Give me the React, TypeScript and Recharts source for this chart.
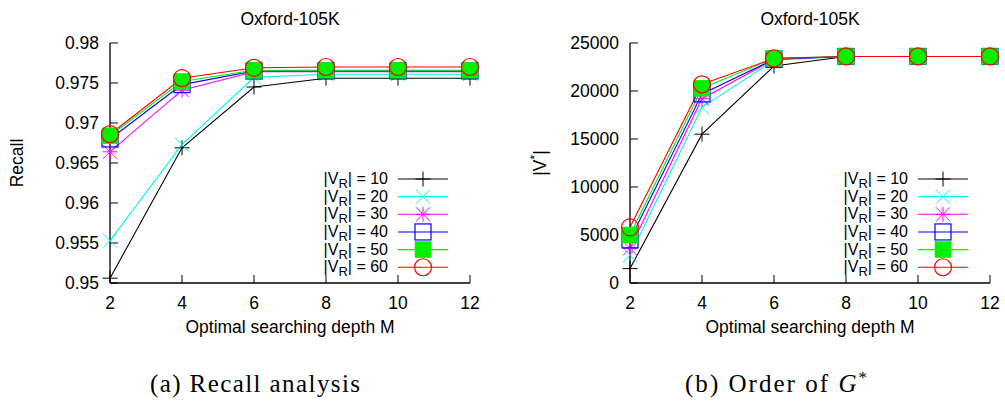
import React from 'react';
import { LineChart, Line, XAxis, YAxis } from 'recharts';

// ---------- data ----------
const depthM = [2, 4, 6, 8, 10, 12];
const vrSizes = [10, 20, 30, 40, 50, 60];

const recallVR10 = [0.9506, 0.9669, 0.9745, 0.9756, 0.9756, 0.9756];
const recallVR20 = [0.9553, 0.9673, 0.9757, 0.9761, 0.9761, 0.9761];
const recallVR30 = [0.9664, 0.9741, 0.9764, 0.9764, 0.9764, 0.9764];
const recallVR40 = [0.968, 0.9748, 0.9765, 0.9765, 0.9765, 0.9765];
const recallVR50 = [0.9684, 0.9752, 0.9766, 0.9766, 0.9766, 0.9766];
const recallVR60 = [0.9686, 0.9756, 0.9769, 0.977, 0.977, 0.977];

const orderVR10 = [1500, 15500, 22600, 23600, 23600, 23600];
const orderVR20 = [2900, 18300, 23200, 23600, 23600, 23600];
const orderVR30 = [3600, 19200, 23300, 23600, 23600, 23600];
const orderVR40 = [4500, 19700, 23300, 23600, 23600, 23600];
const orderVR50 = [5000, 20300, 23400, 23600, 23600, 23600];
const orderVR60 = [5800, 20700, 23400, 23600, 23600, 23600];

const xTicks = [2, 4, 6, 8, 10, 12];
const recallTicks = [0.95, 0.955, 0.96, 0.965, 0.97, 0.975, 0.98];
const orderTicks = [0, 5000, 10000, 15000, 20000, 25000];

const panelTitle = 'Oxford-105K';
const xAxisTitle = 'Optimal searching depth M';

// ---------- styles ----------
const seriesColors = ['#000000', '#00f4f4', '#ff00ff', '#0000ff', '#00f000', '#ff0000'];
const seriesMarkers = ['plus', 'cross', 'star', 'square', 'filledSquare', 'circle'];
const SANS = '"Liberation Sans", Arial, Helvetica, sans-serif';
const SERIF = '"Liberation Serif", "Times New Roman", serif';
const FS = 17.5;
const LEG_FS = 16;

function buildRows(series: number[][]) {
  return depthM.map((m, i) => {
    const row: any = { m };
    series.forEach((s, j) => {
      row[`v${j}`] = s[i];
    });
    return row;
  });
}

const recallRows = buildRows([recallVR10, recallVR20, recallVR30, recallVR40, recallVR50, recallVR60]);
const orderRows = buildRows([orderVR10, orderVR20, orderVR30, orderVR40, orderVR50, orderVR60]);

function Marker({ kind, cx, cy, color }: { kind: string; cx: number; cy: number; color: string }) {
  const h = 7.5;
  const d = 7;
  const s = 8;
  if (kind === 'plus') {
    return (
      <g stroke={color} strokeWidth={1}>
        <line x1={cx - h} y1={cy} x2={cx + h} y2={cy} />
        <line x1={cx} y1={cy - h} x2={cx} y2={cy + h} />
      </g>
    );
  }
  if (kind === 'cross') {
    return (
      <g stroke={color} strokeWidth={1}>
        <line x1={cx - d} y1={cy - d} x2={cx + d} y2={cy + d} />
        <line x1={cx - d} y1={cy + d} x2={cx + d} y2={cy - d} />
      </g>
    );
  }
  if (kind === 'star') {
    return (
      <g stroke={color} strokeWidth={1}>
        <line x1={cx - h} y1={cy} x2={cx + h} y2={cy} />
        <line x1={cx} y1={cy - h} x2={cx} y2={cy + h} />
        <line x1={cx - d} y1={cy - d} x2={cx + d} y2={cy + d} />
        <line x1={cx - d} y1={cy + d} x2={cx + d} y2={cy - d} />
      </g>
    );
  }
  if (kind === 'square') {
    return <rect x={cx - s} y={cy - s} width={2 * s} height={2 * s} fill="none" stroke={color} strokeWidth={1.2} />;
  }
  if (kind === 'filledSquare') {
    return <rect x={cx - s} y={cy - s} width={2 * s} height={2 * s} fill={color} stroke={color} strokeWidth={0.5} />;
  }
  return <circle cx={cx} cy={cy} r={8.5} fill="none" stroke={color} strokeWidth={1.2} />;
}

type PanelProps = {
  data: any[];
  yDomain: [number, number];
  yTicks: number[];
  width: number;
  yAxisWidth: number;
  rightMargin: number;
  yLabel: React.ReactNode;
  yLabelX: number;
};

const HEIGHT = 340;
const TOP = 43;
const PLOT_BOTTOM = 283;

function Panel({ data, yDomain, yTicks, width, yAxisWidth, rightMargin, yLabel, yLabelX }: PanelProps) {
  const plotLeft = yAxisWidth;
  const plotRight = width - rightMargin;
  const plotCenter = (plotLeft + plotRight) / 2;
  const legendTextX = plotRight - 82;
  const legendLineX1 = plotRight - 72;
  const legendLineX2 = plotRight - 22;
  const legendMarkX = plotRight - 47;
  const legendY0 = 179;
  const legendStep = 17.65;
  const tickStyle = { fontSize: FS, fill: '#000', fontFamily: SANS };

  return (
    <LineChart
      width={width}
      height={HEIGHT}
      data={data}
      margin={{ top: TOP, right: rightMargin, bottom: 0, left: 0 }}
    >
      <XAxis
        dataKey="m"
        type="number"
        domain={[2, 12]}
        ticks={xTicks}
        height={HEIGHT - PLOT_BOTTOM}
        tickSize={-8}
        tickMargin={22}
        tick={tickStyle}
        stroke="#000"
        tickLine={{ stroke: '#000' }}
        axisLine={{ stroke: '#000', strokeWidth: 1.3 }}
        interval={0}
      />
      <XAxis
        xAxisId="top"
        orientation="top"
        dataKey="m"
        type="number"
        domain={[2, 12]}
        ticks={xTicks}
        height={0}
        tickSize={-8}
        tick={false}
        tickLine={{ stroke: '#000' }}
        axisLine={{ stroke: '#000', strokeWidth: 1.3 }}
        interval={0}
      />
      <YAxis
        type="number"
        domain={yDomain}
        ticks={yTicks}
        width={yAxisWidth}
        tickSize={-8}
        tickMargin={19}
        tick={tickStyle}
        tickLine={{ stroke: '#000' }}
        axisLine={{ stroke: '#000', strokeWidth: 1.3 }}
        interval={0}
        allowDataOverflow
      />
      <YAxis
        yAxisId="right"
        orientation="right"
        type="number"
        domain={yDomain}
        ticks={yTicks}
        width={0}
        tickSize={-8}
        tick={false}
        tickLine={{ stroke: '#000' }}
        axisLine={{ stroke: '#000', strokeWidth: 1.3 }}
        interval={0}
        allowDataOverflow
      />
      {vrSizes.map((vr, j) => (
        <Line
          key={`line-${vr}`}
          dataKey={`v${j}`}
          type="linear"
          stroke={seriesColors[j]}
          strokeWidth={1.1}
          isAnimationActive={false}
          activeDot={false}
          dot={(p: any) => (
            <Marker key={`dot-${vr}-${p.index}`} kind={seriesMarkers[j]} cx={p.cx} cy={p.cy} color={seriesColors[j]} />
          )}
        />
      ))}
      <text x={plotCenter} y={25} textAnchor="middle" fontSize={FS} fontFamily={SANS} fill="#000">
        {panelTitle}
      </text>
      <text x={plotCenter} y={333} textAnchor="middle" fontSize={FS} fontFamily={SANS} fill="#000">
        {xAxisTitle}
      </text>
      <g transform={`translate(${yLabelX},163) rotate(-90)`}>
        <text x={0} y={6} textAnchor="middle" fontSize={FS} fontFamily={SANS} fill="#000">
          {yLabel}
        </text>
      </g>
      {vrSizes.map((vr, j) => {
        const y = legendY0 + j * legendStep;
        return (
          <g key={`leg-${vr}`}>
            <text x={legendTextX} y={y + 5} textAnchor="end" fontSize={LEG_FS} fontFamily={SANS} fill="#000">
              |V
              <tspan dy={4} fontSize={13}>R</tspan>
              <tspan dy={-4}>{`| = ${vr}`}</tspan>
            </text>
            <line x1={legendLineX1} y1={y} x2={legendLineX2} y2={y} stroke={seriesColors[j]} strokeWidth={1.1} />
            <Marker kind={seriesMarkers[j]} cx={legendMarkX} cy={y} color={seriesColors[j]} />
          </g>
        );
      })}
    </LineChart>
  );
}

export default function App() {
  return (
    <div style={{ position: 'absolute', left: 0, top: 0, width: 1005, height: 405, background: '#fff' }}>
      <div style={{ position: 'absolute', left: 0, top: 0 }}>
        <Panel
          data={recallRows}
          yDomain={[0.95, 0.98]}
          yTicks={recallTicks}
          width={500}
          yAxisWidth={110}
          rightMargin={30}
          yLabel="Recall"
          yLabelX={17}
        />
      </div>
      <div style={{ position: 'absolute', left: 500, top: 0 }}>
        <Panel
          data={orderRows}
          yDomain={[0, 25000]}
          yTicks={orderTicks}
          width={505}
          yAxisWidth={130}
          rightMargin={15}
          yLabel={
            <>
              |V<tspan dy={-7} fontSize={12}>*</tspan>
              <tspan dy={7}>|</tspan>
            </>
          }
          yLabelX={40}
        />
      </div>
      <svg width={1005} height={65} style={{ position: 'absolute', left: 0, top: 340 }}>
        <text x={150} y={52} fontSize={25} fontFamily={SERIF} fill="#000" textLength={210} lengthAdjust="spacing">
          (a) Recall analysis
        </text>
        <text x={685} y={52} fontSize={25} fontFamily={SERIF} fill="#000" textLength={182} lengthAdjust="spacing">
          (b) Order of <tspan fontStyle="italic">G</tspan>
          <tspan dy={-9} fontSize={17}>*</tspan>
        </text>
      </svg>
    </div>
  );
}
